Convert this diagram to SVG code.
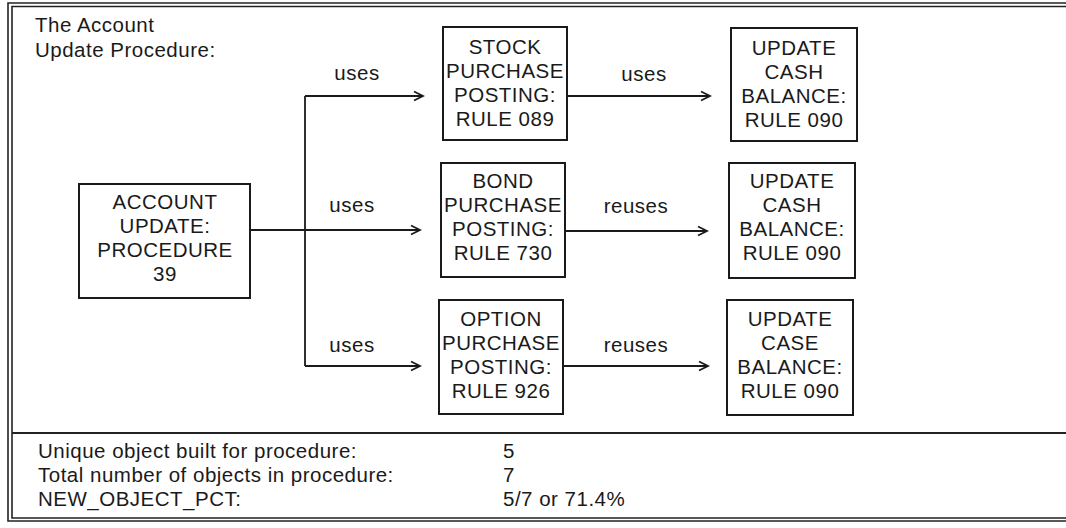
<svg xmlns="http://www.w3.org/2000/svg" width="1066" height="528" viewBox="0 0 1066 528">
<style>
text{font-family:"Liberation Sans",Arial,sans-serif;font-size:20.5px;fill:#1a1a1a;letter-spacing:0.5px}
.c{text-anchor:middle}
.box{fill:#fff;stroke:#1a1a1a;stroke-width:2}
.ln{fill:none;stroke:#1a1a1a;stroke-width:1.8}
.frame{fill:none;stroke:#222;stroke-width:1.6}
</style>
<defs>
<marker id="ah" markerWidth="12" markerHeight="12" refX="10" refY="6" orient="auto" markerUnits="userSpaceOnUse">
<polyline points="1,1.5 10,6 1,10.5" fill="none" stroke="#1a1a1a" stroke-width="1.8"/>
</marker>
</defs>
<rect width="1066" height="528" fill="#fff"/>
<g id="frame">
<path class="frame" d="M1066,3 H8 V521 H1066"/>
<path class="frame" d="M1066,6.5 H12 V518 H1066"/>
<path class="frame" d="M12,433 H1066" style="stroke-width:2"/>
</g>
<g id="title">
<text x="35" y="32">The Account</text>
<text x="35" y="57">Update Procedure:</text>
</g>
<g id="connectors">
<path class="ln" d="M250,230 H420" marker-end="url(#ah)"/>
<path class="ln" d="M305,96 V366"/>
<path class="ln" d="M305,96 H423" marker-end="url(#ah)"/>
<path class="ln" d="M305,366 H420" marker-end="url(#ah)"/>
<path class="ln" d="M567,96 H710" marker-end="url(#ah)"/>
<path class="ln" d="M565,231 H707" marker-end="url(#ah)"/>
<path class="ln" d="M563,366 H708" marker-end="url(#ah)"/>
<text class="c" x="357" y="80">uses</text>
<text class="c" x="352" y="212">uses</text>
<text class="c" x="352" y="352">uses</text>
<text class="c" x="644" y="81">uses</text>
<text class="c" x="636" y="213">reuses</text>
<text class="c" x="636" y="352">reuses</text>
</g>
<g id="account">
<rect class="box" x="79" y="184" width="171" height="114"/>
<text class="c" x="165" y="209">ACCOUNT</text>
<text class="c" x="165" y="233">UPDATE:</text>
<text class="c" x="165" y="257">PROCEDURE</text>
<text class="c" x="165" y="281">39</text>
</g>
<g id="stock">
<rect class="box" x="443" y="27" width="124" height="113"/>
<text class="c" x="505" y="54">STOCK</text>
<text class="c" x="505" y="78">PURCHASE</text>
<text class="c" x="505" y="102">POSTING:</text>
<text class="c" x="505" y="126">RULE 089</text>
</g>
<g id="cash1">
<rect class="box" x="731" y="28" width="126" height="113"/>
<text class="c" x="794" y="55">UPDATE</text>
<text class="c" x="794" y="79">CASH</text>
<text class="c" x="794" y="103">BALANCE:</text>
<text class="c" x="794" y="127">RULE 090</text>
</g>
<g id="bond">
<rect class="box" x="441" y="163" width="124" height="114"/>
<text class="c" x="503" y="188">BOND</text>
<text class="c" x="503" y="212">PURCHASE</text>
<text class="c" x="503" y="236">POSTING:</text>
<text class="c" x="503" y="260">RULE 730</text>
</g>
<g id="cash2">
<rect class="box" x="729" y="163" width="126" height="115"/>
<text class="c" x="792" y="188">UPDATE</text>
<text class="c" x="792" y="212">CASH</text>
<text class="c" x="792" y="236">BALANCE:</text>
<text class="c" x="792" y="260">RULE 090</text>
</g>
<g id="option">
<rect class="box" x="439" y="300" width="124" height="114"/>
<text class="c" x="501" y="326">OPTION</text>
<text class="c" x="501" y="350">PURCHASE</text>
<text class="c" x="501" y="374">POSTING:</text>
<text class="c" x="501" y="398">RULE 926</text>
</g>
<g id="case">
<rect class="box" x="727" y="300" width="126" height="115"/>
<text class="c" x="790" y="326">UPDATE</text>
<text class="c" x="790" y="350">CASE</text>
<text class="c" x="790" y="374">BALANCE:</text>
<text class="c" x="790" y="398">RULE 090</text>
</g>
<g id="stats">
<text x="38" y="458">Unique object built for procedure:</text>
<text x="38" y="482">Total number of objects in procedure:</text>
<text x="38" y="506">NEW_OBJECT_PCT:</text>
<text x="503" y="458">5</text>
<text x="503" y="482">7</text>
<text x="503" y="506">5/7 or 71.4%</text>
</g>
</svg>
